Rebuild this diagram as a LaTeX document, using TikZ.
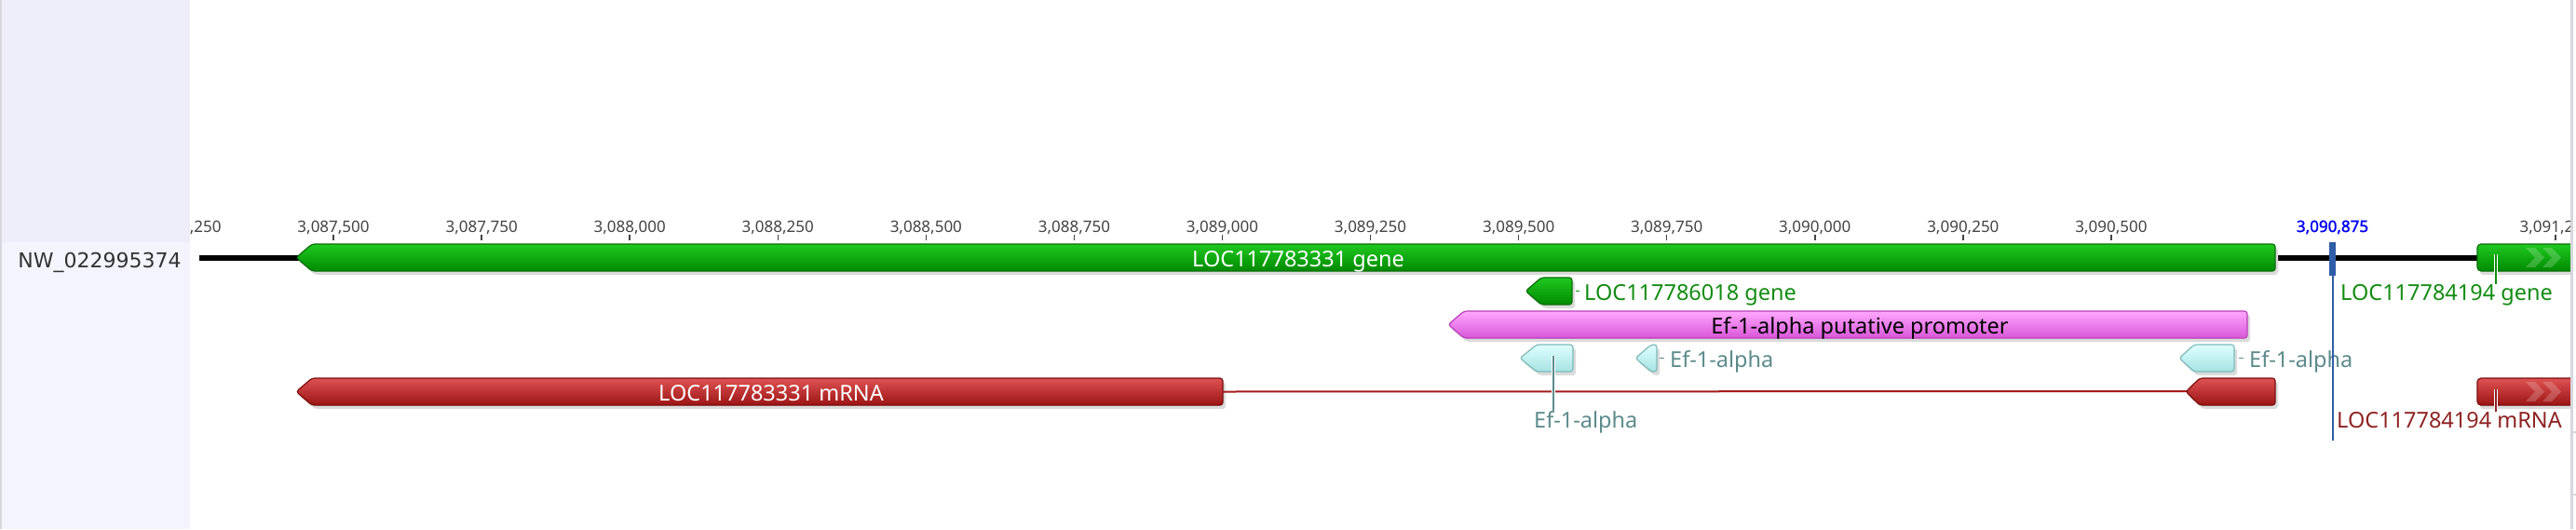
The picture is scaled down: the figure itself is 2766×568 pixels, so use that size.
\documentclass[tikz,border=0pt]{standalone}
\usepackage{fontspec}
\setmainfont{Noto Sans}
\newfontfamily\seqfont{DejaVu Sans}
\newfontfamily\posfont[FakeBold=1.6]{Noto Sans}
\usetikzlibrary{positioning}

\definecolor{genetop}{HTML}{20C820}
\definecolor{genebot}{HTML}{008A00}
\definecolor{geneedge}{HTML}{0B6E0B}
\definecolor{genetext}{HTML}{128C12}
\definecolor{mrnatop}{HTML}{DE5252}
\definecolor{mrnabot}{HTML}{9C1414}
\definecolor{mrnaedge}{HTML}{7A0E0E}
\definecolor{mrnatext}{HTML}{8E2222}
\definecolor{introncol}{HTML}{A51C1C}
\definecolor{promtop}{HTML}{FFA8FF}
\definecolor{prombot}{HTML}{D855D8}
\definecolor{promedge}{HTML}{B940B9}
\definecolor{eftop}{HTML}{E0FFFF}
\definecolor{efbot}{HTML}{A6E2E2}
\definecolor{efedge}{HTML}{7FBABA}
\definecolor{eftext}{HTML}{5D8B8C}
\definecolor{markblue}{HTML}{2F5DA6}
\definecolor{posblue}{HTML}{0000F0}
\definecolor{panelA}{HTML}{EEEEFB}
\definecolor{panelB}{HTML}{F4F4FE}
\definecolor{edgegray}{HTML}{D6D6DC}
\definecolor{tickgray}{HTML}{444444}
\definecolor{nwgray}{HTML}{333333}

\tikzset{
    feat/.style={line width=1.2, rounded corners=3},
    gene/.style={feat, top color=genetop, bottom color=genebot, draw=geneedge},
    mrna/.style={feat, top color=mrnatop, bottom color=mrnabot, draw=mrnaedge},
    prom/.style={feat, top color=promtop, bottom color=prombot, draw=promedge},
    efa/.style={feat, top color=eftop, bottom color=efbot, draw=efedge},
    featshadow/.style={fill=black!14, rounded corners=3},
    lab/.style={inner sep=0pt, font=\fontsize{23.5}{28}\selectfont},
    ticklab/.style={inner sep=0pt, anchor=base, text=tickgray, font=\fontsize{17}{20}\selectfont},
    leader/.style={draw=white, double=#1, double distance=2, line width=1.2}
}

% name, style, tip x, body x, right x, top y, bottom y
\newcommand{\revfeat}[7]{%
    \fill [featshadow,shift={(3,4)}] (#3,{(#6+#7)/2}) -- (#4,#6) -- (#5,#6) -- (#5,#7) -- (#4,#7) -- cycle;
    \draw [#2] (#3,{(#6+#7)/2}) -- (#4,#6) -- (#5,#6) -- (#5,#7) -- (#4,#7) -- cycle;
    \coordinate (#1 tip) at (#3,{(#6+#7)/2});
    \coordinate (#1 end) at (#5,{(#6+#7)/2});
}

\begin{document}
\begin{tikzpicture}[x=1pt,y=-1pt]
    \useasboundingbox (0,0) rectangle (2766,568);
    \fill [white] (0,0) rectangle (2766,568);

    \begin{scope}
        \clip (204,0) rectangle (2760,568);

        \coordinate (seq start) at (214,277);
        \coordinate (seq stop) at (2760,277);
        \draw [line width=6] (seq start) -- (seq stop);

        \foreach \k/\t in {0/{3,087,250},1/{3,087,500},2/{3,087,750},3/{3,088,000},4/{3,088,250},
                           5/{3,088,500},6/{3,088,750},7/{3,089,000},8/{3,089,250},9/{3,089,500},
                           10/{3,089,750},11/{3,090,000},12/{3,090,250},13/{3,090,500},16/{3,091,250}}{%
            \draw [tickgray,line width=1.5] (199+159.07*\k,252) -- (199+159.07*\k,258);
            \node [ticklab] (tick\k) at (199+159.07*\k,249) {\t};
        }

        \revfeat{gA}{gene}{318}{335}{2443}{262}{291}
        \revfeat{gB}{gene}{1638}{1655}{1688}{298}{327}
        \revfeat{pr}{prom}{1555}{1572}{2413}{334}{363}
        \revfeat{efA}{efa}{1632}{1650}{1689}{370}{399}
        \revfeat{efB}{efa}{1756}{1773}{1779}{370}{399}
        \revfeat{efC}{efa}{2340}{2356}{2399}{370}{399}
        \revfeat{mA}{mrna}{318}{335}{1313}{406}{435}
        \draw [introncol,line width=2] (mA end) -- (2350,420);
        \revfeat{mB}{mrna}{2347}{2362}{2443}{406}{435}

        \fill [featshadow,shift={(3,4)}] (2660,262) rectangle (2800,291);
        \draw [gene,rounded corners=4] (2660,262) rectangle (2800,291);
        \fill [featshadow,shift={(3,4)}] (2660,406) rectangle (2800,435);
        \draw [mrna,rounded corners=4] (2660,406) rectangle (2800,435);
        \foreach \c in {2712,2730}{%
            \fill [white,opacity=0.2] (\c,266) -- (\c+10,266) -- (\c+20,276.5) -- (\c+10,287) -- (\c,287) -- (\c+10,276.5) -- cycle;
            \fill [white,opacity=0.2] (\c,410) -- (\c+10,410) -- (\c+20,420.5) -- (\c+10,431) -- (\c,431) -- (\c+10,420.5) -- cycle;
        }
        \coordinate (gC mark) at (2680,273);
        \coordinate (mC mark) at (2680,418);
        \coordinate (efA mark) at (1668,382);

        \node [lab,text=white,anchor=base] (gAlab) at (1394,286) {LOC117783331 gene};
        \node [lab,text=white,anchor=base] (mAlab) at (828,430) {LOC117783331 mRNA};
        \node [lab,anchor=base] (prlab) at (1997,358) {Ef-1-alpha putative promoter};

        \node [lab,text=genetext,anchor=base west] (gBlab) at (1701,322) {LOC117786018 gene};
        \draw [genetext,line width=1.5] ([xshift=4]gB end) -- ([xshift=-5]gB end -| gBlab.west);

        \node [lab,text=eftext,anchor=base west] (efAlab) at (1647,459) {Ef-1-alpha};
        \draw [leader=eftext] (efA mark) -- (efA mark |- efAlab.north);
        \node [lab,text=eftext,anchor=base west] (efBlab) at (1793,394) {Ef-1-alpha};
        \draw [eftext,line width=1.5] ([xshift=3]efB end) -- ([xshift=-6]efB end -| efBlab.west);
        \node [lab,text=eftext,anchor=base west] (efClab) at (2415,394) {Ef-1-alpha};
        \draw [eftext,line width=1.5] ([xshift=5]efC end) -- ([xshift=-6]efC end -| efClab.west);

        \node [lab,text=genetext,anchor=base west] (gClab) at (2513,322) {LOC117784194 gene};
        \draw [leader=genetext] (gC mark) -- (gC mark |- gClab.north);
        \node [lab,text=mrnatext,anchor=base west] (mClab) at (2509,459) {LOC117784194 mRNA};
        \draw [leader=mrnatext] (mC mark) -- (mC mark |- mClab.north);

        \fill [markblue] (2501,260) rectangle (2508,296);
        \coordinate (pos top) at (2504.5,296);
        \coordinate (pos bot) at (2504.5,473);
        \draw [markblue,line width=2] (pos top) -- (pos bot);
        \node [ticklab,text=posblue,font=\posfont\fontsize{17}{20}\selectfont] (pos) at (2504.5,249) {3,090,875};
    \end{scope}

    \fill [panelA] (0,0) rectangle (204,260);
    \fill [panelB] (0,260) rectangle (204,568);
    \fill [edgegray] (0,0) rectangle (2,568);
    \node [lab,font=\seqfont\fontsize{22}{26}\selectfont,text=nwgray,anchor=base] (seq) at (107,287) {NW\_022995374};
    \fill [edgegray] (2760,0) rectangle (2763,568);
    \draw [edgegray,line width=1.5] (2763,464) -- (2766,464);
    \draw [edgegray,line width=1.5] (2763,531) -- (2766,531);
\end{tikzpicture}
\end{document}
